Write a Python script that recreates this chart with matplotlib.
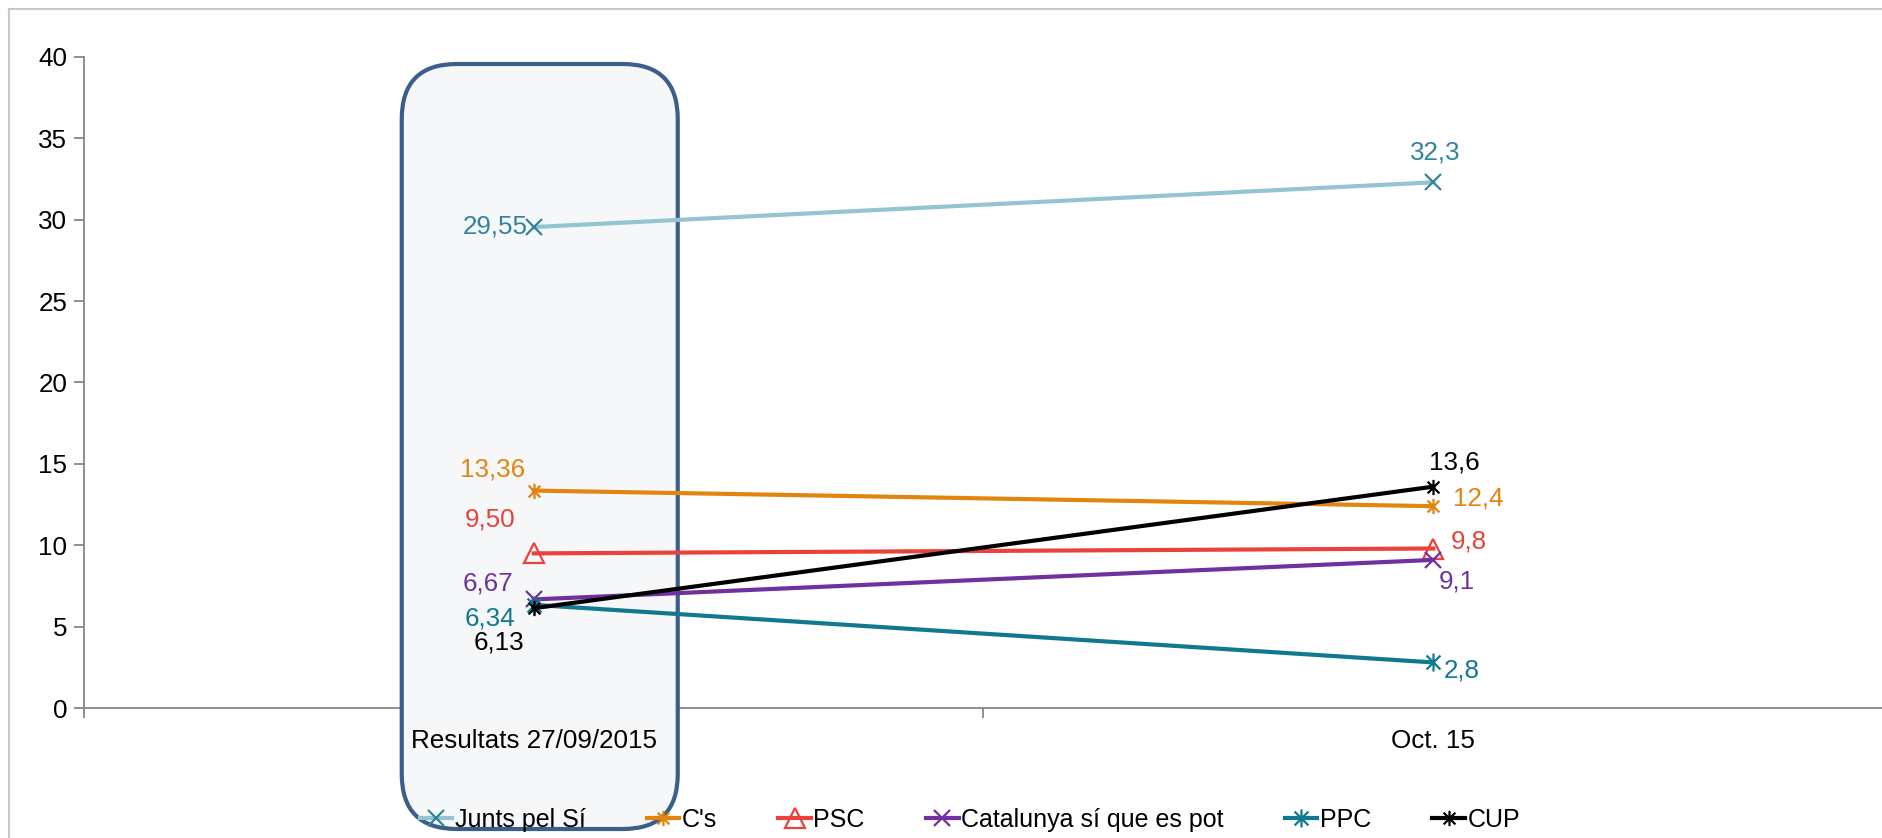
import matplotlib.pyplot as plt
import matplotlib.patches as mpatches
import matplotlib.transforms as mtransforms
from matplotlib.path import Path
from matplotlib.lines import Line2D

plt.rcParams['font.family'] = ['Liberation Sans', 'DejaVu Sans']
plt.rcParams['font.size'] = 18.7

categories = ['Resultats 27/09/2015', 'Oct. 15']
parties = ['Junts pel Sí', "C's", 'PSC', 'Catalunya sí que es pot', 'PPC', 'CUP']
junts = [29.55, 32.3]
cs = [13.36, 12.4]
psc = [9.50, 9.8]
catsqp = [6.67, 9.1]
ppc = [6.34, 2.8]
cup = [6.13, 13.6]
labels_first = ['29,55', '13,36', '9,50', '6,67', '6,34', '6,13']
labels_last = ['32,3', '12,4', '9,8', '9,1', '2,8', '13,6']

# asterisk marker like excel "star"
star = Path([(-1, -1), (1, 1), (-1, 1), (1, -1), (0, -1.3), (0, 1.3)],
            [Path.MOVETO, Path.LINETO, Path.MOVETO, Path.LINETO, Path.MOVETO, Path.LINETO])

series = [junts, cs, psc, catsqp, ppc, cup]
line_col = ['#93C4CF', '#E3840F', '#E8423A', '#7030A0', '#11798F', '#000000']
mark_col = ['#31849B', '#E3840F', '#E8423A', '#7030A0', '#11798F', '#000000']
text_col = ['#31849B', '#E3840F', '#E8423A', '#7030A0', '#11798F', '#000000']
markers = ['x', star, '^', 'x', star, star]
msizes = [12, 11, 15, 12, 13, 11]
# label offsets in pixels (dx, dy, ha)
off_first = [(-6, 1, 'right'), (-9, 21, 'right'), (-18, 34, 'right'),
             (-20, 16, 'right'), (-18, -14, 'right'), (-9, -34, 'right')]
off_last = [(2, 30, 'center'), (20, 8, 'left'), (18, 7, 'left'),
            (6, -22, 'left'), (11, -8, 'left'), (21, 24, 'center')]

fig = plt.figure(figsize=(18.83, 8.38), dpi=100)
ax = fig.add_axes([84 / 1883, 130 / 838, 1 - 84 / 1883, 651 / 838])
ax.patch.set_visible(False)

x = [0, 1]
handles = []
for i, vals in enumerate(series):
    h, = ax.plot(x, vals, color=line_col[i], lw=3, marker=markers[i], ms=msizes[i],
                 mec=mark_col[i], mfc='none', mew=1.6, zorder=3, label=parties[i])
    handles.append(h)
    dx, dy, ha = off_first[i]
    ax.annotate(labels_first[i], (0, vals[0]), xytext=(dx, dy), textcoords='offset pixels',
                ha=ha, va='center', color=text_col[i], zorder=4)
    dx, dy, ha = off_last[i]
    ax.annotate(labels_last[i], (1, vals[1]), xytext=(dx, dy), textcoords='offset pixels',
                ha=ha, va='center', color=text_col[i], zorder=4)

ax.set_xlim(-0.5, 1.5)
ax.set_ylim(0, 40)
ax.set_yticks(range(0, 41, 5))
ax.set_xticks([-0.5, 0.5, 1.5])
ax.set_xticklabels([])
ax.set_xticks(x, minor=True)
ax.set_xticklabels(categories, minor=True)
ax.tick_params(axis='x', which='major', length=7, width=1.3, color='#868686', direction='out')
ax.tick_params(axis='x', which='minor', length=0, pad=15)
ax.tick_params(axis='y', length=7, width=1.3, color='#868686', pad=5)
for s in ['top', 'right']:
    ax.spines[s].set_visible(False)
for s in ['left', 'bottom']:
    ax.spines[s].set_color('#868686')
    ax.spines[s].set_linewidth(1.3)
ax.xaxis.set_zorder(2.7)

# rounded highlight box around the first category
fig.canvas.draw()
cx, ytop = ax.transData.transform((0, 40))
cx += 6
box = mpatches.FancyBboxPatch((cx - 138, 9), 276, ytop - 7 - 9,
                              boxstyle='round,pad=0,rounding_size=55',
                              transform=mtransforms.IdentityTransform(),
                              facecolor='#F5F7F9', edgecolor='#3B5E8C', lw=3,
                              clip_on=False, zorder=2.6)
ax.add_artist(box)

# outer chart frame
fig.add_artist(Line2D([9 / 1883, 9 / 1883], [0, 1 - 9 / 838], color='#C8C8C8', lw=1.5,
                      transform=fig.transFigure))
fig.add_artist(Line2D([9 / 1883, 1], [1 - 9 / 838, 1 - 9 / 838], color='#C8C8C8', lw=1.5,
                      transform=fig.transFigure))

fig.legend(handles=handles, loc='center', bbox_to_anchor=(970 / 1883, 18 / 838), ncol=6,
           frameon=False, fontsize=18, handlelength=1.3, handletextpad=0.1,
           columnspacing=2.45, numpoints=1, borderaxespad=0, borderpad=0)

fig.savefig('out.png', dpi=100)
